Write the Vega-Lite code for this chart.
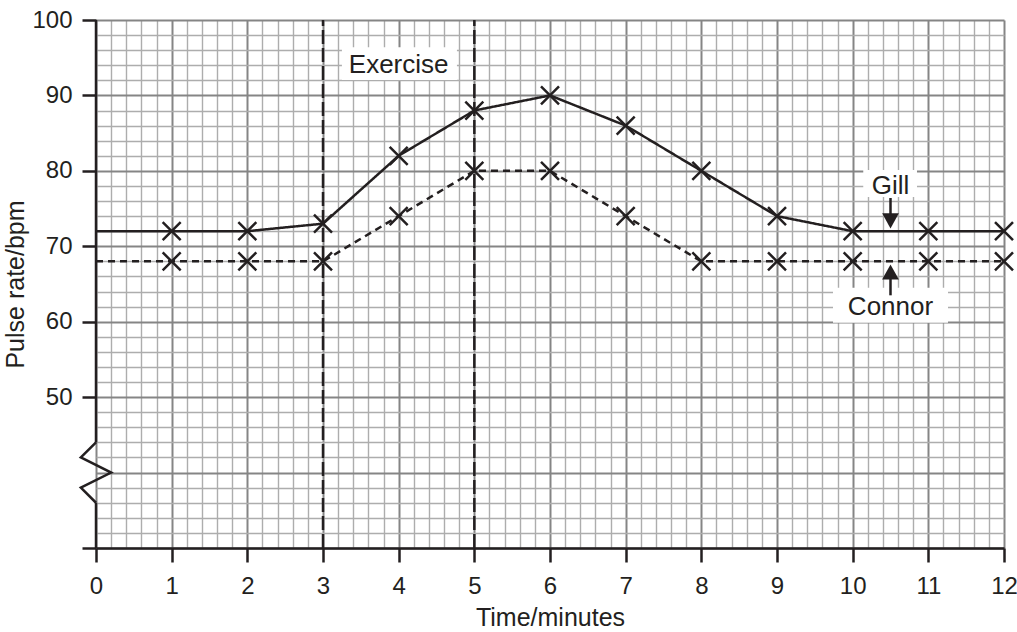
{
  "$schema": "https://vega.github.io/schema/vega-lite/v6.json",
  "width": 908,
  "height": 528,
  "autosize": {"type": "none"},
  "padding": {"left": 96, "top": 20, "right": 13, "bottom": 84},
  "background": "white",
  "config": {
    "view": {"stroke": null},
    "font": "Liberation Sans",
    "text": {"font": "Liberation Sans"}
  },
  "datasets": {
    "series": [
      {"series": "Gill", "x": 0, "y": 72},
      {"series": "Gill", "x": 1, "y": 72},
      {"series": "Gill", "x": 2, "y": 72},
      {"series": "Gill", "x": 3, "y": 73},
      {"series": "Gill", "x": 4, "y": 82},
      {"series": "Gill", "x": 5, "y": 88},
      {"series": "Gill", "x": 6, "y": 90},
      {"series": "Gill", "x": 7, "y": 86},
      {"series": "Gill", "x": 8, "y": 80},
      {"series": "Gill", "x": 9, "y": 74},
      {"series": "Gill", "x": 10, "y": 72},
      {"series": "Gill", "x": 11, "y": 72},
      {"series": "Gill", "x": 12, "y": 72},
      {"series": "Connor", "x": 0, "y": 68},
      {"series": "Connor", "x": 1, "y": 68},
      {"series": "Connor", "x": 2, "y": 68},
      {"series": "Connor", "x": 3, "y": 68},
      {"series": "Connor", "x": 4, "y": 74},
      {"series": "Connor", "x": 5, "y": 80},
      {"series": "Connor", "x": 6, "y": 80},
      {"series": "Connor", "x": 7, "y": 74},
      {"series": "Connor", "x": 8, "y": 68},
      {"series": "Connor", "x": 9, "y": 68},
      {"series": "Connor", "x": 10, "y": 68},
      {"series": "Connor", "x": 11, "y": 68},
      {"series": "Connor", "x": 12, "y": 68}
    ],
    "exercise": [
      {"x": 3, "y": 30, "y2": 100},
      {"x": 5, "y": 30, "y2": 100}
    ],
    "yaxisline": [
      {"x": 0, "y": 30, "y2": 36},
      {"x": 0, "y": 44, "y2": 100}
    ],
    "zigzag": [
      {"i": 0, "x": 0, "y": 44},
      {"i": 1, "x": -0.2, "y": 42},
      {"i": 2, "x": 0.2, "y": 40},
      {"i": 3, "x": -0.2, "y": 38},
      {"i": 4, "x": 0, "y": 36}
    ],
    "boxes": [
      {"x": 3.25, "x2": 4.77, "y": 92.05, "y2": 96.4},
      {"x": 10.14, "x2": 10.85, "y": 76.55, "y2": 80.1},
      {"x": 9.74, "x2": 11.26, "y": 59.85, "y2": 64.5}
    ],
    "labels": [
      {"x": 4, "y": 94, "label": "Exercise"},
      {"x": 10.5, "y": 78, "label": "Gill"},
      {"x": 10.5, "y": 62, "label": "Connor"}
    ],
    "stems": [
      {"x": 10.5, "y": 76.4, "y2": 74.0},
      {"x": 10.5, "y": 66.0, "y2": 63.5}
    ],
    "heads": [
      {"x": 10.5, "y": 73.37, "dir": "down"},
      {"x": 10.5, "y": 66.6, "dir": "up"}
    ]
  },
  "encoding": {
    "x": {
      "field": "x",
      "type": "quantitative",
      "scale": {"domain": [0, 12], "nice": false, "zero": false},
      "axis": {
        "title": "Time/minutes",
        "titleFont": "Liberation Sans",
        "titleFontSize": 25,
        "titleFontWeight": "normal",
        "titleColor": "#231f20",
        "titleBaseline": "alphabetic",
        "titleY": 77,
        "values": [0,0.2,0.4,0.6,0.8,1,1.2,1.4,1.6,1.8,2,2.2,2.4,2.6,2.8,3,3.2,3.4,3.6,3.8,4,4.2,4.4,4.6,4.8,5,5.2,5.4,5.6,5.8,6,6.2,6.4,6.6,6.8,7,7.2,7.4,7.6,7.8,8,8.2,8.4,8.6,8.8,9,9.2,9.4,9.6,9.8,10,10.2,10.4,10.6,10.8,11,11.2,11.4,11.6,11.8,12],
        "labelExpr": "datum.value % 1 === 0 ? '' + datum.value : ''",
        "labelFont": "Liberation Sans",
        "labelFontSize": 24,
        "labelColor": "#231f20",
        "labelPadding": 12,
        "labelOverlap": false,
        "labelFlush": false,
        "labelBound": false,
        "tickSize": 14,
        "tickWidth": 2.5,
        "tickColor": {"condition": {"test": "datum.value % 1 === 0", "value": "#231f20"}, "value": "transparent"},
        "domain": true,
        "domainColor": "#231f20",
        "domainWidth": 2.5,
        "grid": true,
        "gridColor": {"condition": {"test": "datum.value % 1 === 0", "value": "#858585"}, "value": "#adadad"},
        "gridWidth": {"condition": {"test": "datum.value % 1 === 0", "value": 2}, "value": 1.4},
        "gridOpacity": 1
      }
    },
    "y": {
      "field": "y",
      "type": "quantitative",
      "scale": {"domain": [30, 100], "nice": false, "zero": false},
      "axis": {
        "title": "Pulse rate/bpm",
        "titleFont": "Liberation Sans",
        "titleFontSize": 25,
        "titleFontWeight": "normal",
        "titleColor": "#231f20",
        "titleBaseline": "alphabetic",
        "titleX": -73,
        "values": [30,32,34,36,38,40,42,44,46,48,50,52,54,56,58,60,62,64,66,68,70,72,74,76,78,80,82,84,86,88,90,92,94,96,98,100],
        "labelExpr": "datum.value % 10 === 0 && datum.value >= 50 ? '' + datum.value : ''",
        "labelFont": "Liberation Sans",
        "labelFontSize": 24,
        "labelColor": "#231f20",
        "labelPadding": 10,
        "labelOverlap": false,
        "labelFlush": false,
        "labelBound": false,
        "tickSize": 14,
        "tickWidth": 2.5,
        "tickColor": {"condition": {"test": "datum.value % 10 === 0 && datum.value !== 40", "value": "#231f20"}, "value": "transparent"},
        "domain": false,
        "grid": true,
        "gridColor": {"condition": {"test": "datum.value % 10 === 0", "value": "#858585"}, "value": "#adadad"},
        "gridWidth": {"condition": {"test": "datum.value % 10 === 0", "value": 2}, "value": 1.4},
        "gridOpacity": 1
      }
    }
  },
  "layer": [
    {
      "data": {"name": "yaxisline"},
      "mark": {"type": "rule", "color": "#231f20", "strokeWidth": 2.5},
      "encoding": {"y2": {"field": "y2"}}
    },
    {
      "data": {"name": "zigzag"},
      "mark": {"type": "line", "color": "#231f20", "strokeWidth": 2.5},
      "encoding": {"order": {"field": "i", "type": "quantitative"}}
    },
    {
      "data": {"name": "exercise"},
      "mark": {"type": "rule", "color": "#231f20", "strokeWidth": 2.5, "strokeDash": [14, 4]},
      "encoding": {"y2": {"field": "y2"}}
    },
    {
      "data": {"name": "series"},
      "mark": {"type": "line", "color": "#231f20", "strokeWidth": 2.5},
      "encoding": {
        "detail": {"field": "series"},
        "strokeDash": {
          "field": "series",
          "type": "nominal",
          "scale": {"domain": ["Gill", "Connor"], "range": [[1, 0], [7, 5]]},
          "legend": null
        }
      }
    },
    {
      "data": {"name": "series"},
      "transform": [{"filter": "datum.x >= 1"}],
      "mark": {"type": "point", "shape": "M-1,-1L1,1M1,-1L-1,1", "filled": false, "stroke": "#231f20", "strokeWidth": 2.5, "size": 324, "opacity": 1}
    },
    {
      "data": {"name": "boxes"},
      "mark": {"type": "rect", "fill": "white", "stroke": null},
      "encoding": {"x2": {"field": "x2"}, "y2": {"field": "y2"}}
    },
    {
      "data": {"name": "labels"},
      "mark": {"type": "text", "fontSize": 26, "color": "#231f20", "align": "center", "baseline": "middle"},
      "encoding": {"text": {"field": "label"}}
    },
    {
      "data": {"name": "stems"},
      "mark": {"type": "rule", "color": "#231f20", "strokeWidth": 2.5},
      "encoding": {"y2": {"field": "y2"}}
    },
    {
      "data": {"name": "heads"},
      "transform": [{"filter": "datum.dir === 'down'"}],
      "mark": {"type": "point", "shape": "M-1,-0.9L1,-0.9L0,0.9Z", "filled": true, "fill": "#231f20", "strokeWidth": 0, "size": 280, "opacity": 1}
    },
    {
      "data": {"name": "heads"},
      "transform": [{"filter": "datum.dir === 'up'"}],
      "mark": {"type": "point", "shape": "M-1,0.9L1,0.9L0,-0.9Z", "filled": true, "fill": "#231f20", "strokeWidth": 0, "size": 280, "opacity": 1}
    }
  ]
}
